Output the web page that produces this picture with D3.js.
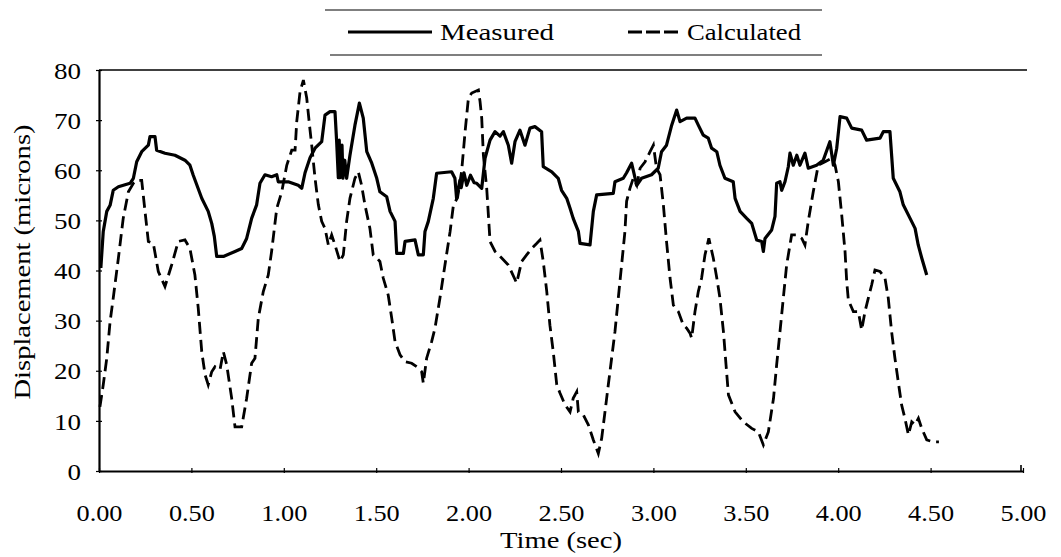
<!DOCTYPE html>
<html>
<head>
<meta charset="utf-8">
<script src="https://cdn.jsdelivr.net/npm/d3@7"></script>
<style>
  html, body { margin: 0; padding: 0; background: #fff; }
  svg { display: block; }
  text { font-family: "Liberation Serif", "Times New Roman", Times, serif !important; fill: #000; }
</style>
</head>
<body>
<svg id="chart" width="1061" height="557"></svg>
<script>
// ---- data ----
const xTicks = [0, 0.5, 1, 1.5, 2, 2.5, 3, 3.5, 4, 4.5, 5];
const xTickLabels = ["0.00", "0.50", "1.00", "1.50", "2.00", "2.50", "3.00", "3.50", "4.00", "4.50", "5.00"];
const yTicks = [0, 10, 20, 30, 40, 50, 60, 70, 80];
const yTickLabels = ["0", "10", "20", "30", "40", "50", "60", "70", "80"];
const seriesNames = ["Measured", "Calculated"];
const xTitle = "Time (sec)";
const yTitle = "Displacement (microns)";

const measuredTime = [0.01,0.023,0.042,0.06,0.077,0.105,0.168,0.186,0.204,0.231,0.267,0.276,0.303,0.312,0.357,0.411,0.465,0.492,0.51,0.556,0.591,0.61,0.624,0.637,0.673,0.736,0.772,0.799,0.826,0.853,0.871,0.898,0.934,0.962,0.97,1.024,1.078,1.097,1.115,1.142,1.169,1.205,1.223,1.25,1.277,1.286,1.295,1.3,1.305,1.315,1.32,1.33,1.34,1.358,1.385,1.409,1.43,1.449,1.476,1.503,1.52,1.557,1.575,1.602,1.611,1.647,1.656,1.71,1.728,1.755,1.764,1.782,1.809,1.827,1.908,1.926,1.935,1.953,1.96,1.975,1.99,2.01,2.03,2.044,2.071,2.089,2.116,2.143,2.17,2.188,2.215,2.233,2.251,2.278,2.305,2.332,2.359,2.395,2.404,2.45,2.485,2.503,2.531,2.549,2.566,2.594,2.603,2.657,2.675,2.693,2.783,2.792,2.837,2.855,2.882,2.91,2.936,2.99,3.026,3.044,3.071,3.099,3.126,3.144,3.18,3.225,3.243,3.27,3.297,3.315,3.343,3.36,3.387,3.432,3.442,3.469,3.505,3.532,3.559,3.586,3.595,3.604,3.64,3.658,3.667,3.685,3.694,3.712,3.73,3.739,3.757,3.776,3.793,3.82,3.838,3.883,3.919,3.955,3.974,3.992,4.01,4.046,4.073,4.127,4.154,4.226,4.244,4.28,4.298,4.334,4.352,4.389,4.416,4.433,4.452,4.479];
const measuredValue = [40.5,47.8,51.8,53,56,56.7,57.4,58.4,61.7,63.7,65,66.7,66.7,64,63.4,63,62,61,59,54.4,51.8,49.4,46.8,42.8,42.8,43.8,44.4,46.4,50.4,53.1,57.4,59.1,58.7,59.1,57.7,57.7,57,56.4,59.5,62.5,64.4,65.7,71,71.7,71.7,65.7,58.5,66,58.5,65,58.4,62,58.4,63,69,73.4,70.4,63.7,61.4,58.4,55.7,54.7,51.8,49.8,43.4,43.4,45.8,46.1,43.1,43.1,47.8,49.8,54.4,59.4,59.7,58.4,54.4,58,56.5,59.5,57,59,57.5,57.4,56.4,62.4,66,67.7,66.8,67.7,65,61.4,65.7,68,65,68.4,68.7,67.7,60.7,59.7,58.4,56,54.4,52.4,50.4,47.8,45.4,45.1,51.8,55.1,55.4,57.7,58.4,59.5,61.4,57,58.4,59.1,60.4,63.7,65,69,72,69.7,70.4,70.4,69,67,66.4,64.4,63.7,61,58.4,57.7,54.4,51.8,50.4,49.4,46.1,45.8,43.8,46.4,48.1,50.8,57.4,57.7,56,57.7,60.7,63.4,61,63,61,63.4,60.4,61,62,65.7,61,64.4,70.7,70.4,68.4,68,66,66.4,67.7,67.7,58.4,55.7,53.1,50.4,48.4,45.1,42.5,39.1];

const calculatedTime = [0.005,0.023,0.042,0.06,0.077,0.105,0.131,0.159,0.186,0.204,0.231,0.249,0.267,0.294,0.321,0.357,0.393,0.429,0.465,0.492,0.519,0.537,0.556,0.574,0.591,0.61,0.628,0.655,0.673,0.691,0.718,0.736,0.772,0.799,0.826,0.844,0.862,0.889,0.916,0.934,0.962,0.989,1.016,1.043,1.061,1.07,1.088,1.106,1.124,1.142,1.151,1.169,1.187,1.205,1.223,1.241,1.259,1.277,1.304,1.322,1.34,1.358,1.385,1.403,1.421,1.439,1.466,1.484,1.503,1.52,1.538,1.565,1.584,1.602,1.629,1.656,1.692,1.719,1.746,1.755,1.773,1.8,1.818,1.845,1.872,1.9,1.918,1.94,1.962,1.981,1.999,2.017,2.053,2.062,2.071,2.08,2.098,2.107,2.116,2.143,2.179,2.215,2.26,2.287,2.314,2.341,2.368,2.386,2.404,2.423,2.44,2.458,2.477,2.495,2.522,2.549,2.566,2.585,2.594,2.621,2.648,2.675,2.702,2.72,2.738,2.756,2.774,2.792,2.81,2.828,2.846,2.855,2.873,2.891,2.91,2.928,2.955,2.982,3.0,3.017,3.036,3.054,3.071,3.09,3.108,3.135,3.162,3.18,3.198,3.207,3.225,3.243,3.261,3.279,3.3,3.324,3.343,3.36,3.379,3.393,3.406,3.442,3.487,3.532,3.568,3.595,3.622,3.65,3.667,3.685,3.703,3.721,3.748,3.776,3.803,3.82,3.838,3.865,3.892,3.929,3.965,3.983,4.001,4.019,4.037,4.046,4.055,4.082,4.109,4.127,4.145,4.163,4.181,4.199,4.226,4.253,4.271,4.289,4.307,4.325,4.343,4.361,4.38,4.398,4.416,4.434,4.452,4.479,4.515,4.545];
const calculatedValue = [12.8,17.2,22.5,29.8,34.5,42.5,50.4,55.7,57.4,58,58,51.8,45.8,45.4,39.8,36.8,41.1,45.8,46.1,44.4,39.1,32.5,23.8,19.2,17.2,19.8,20.8,20.2,23.8,21.2,14.5,8.8,8.8,14.5,21.5,22.5,30.5,35.8,39.1,43.8,52.4,55.7,61,64,64,69.7,75.7,78,74.4,68,65,58.4,53.1,49.8,48.4,45.1,47.1,45.1,41.8,43.1,49.8,54.4,58.4,59.7,57,53.1,48.4,43.1,42.5,41.8,38.5,35.1,30.5,25.8,23.2,21.8,21.5,20.8,19.8,17.5,22.5,25.8,28.5,34.5,41.1,47.8,53.1,54.5,59.7,67.7,74.4,75.4,76,73.7,70.4,63,56.4,51.1,45.8,43.8,42.5,41.1,37.5,41.8,43.1,44.4,45.4,46.1,41.8,35.8,29.1,23.8,17.2,15.5,13.2,11.8,14.5,15.8,11.8,11.2,9.2,6.2,3.5,6.5,11.8,17.2,22.5,27.8,34.5,41.1,47.8,53.8,56.4,58.4,57,60.4,61.7,63.7,65,60.4,59.1,53.1,45.8,38.5,33.1,31.8,29.1,28.5,27.5,26.5,31.8,35.8,38.5,43.1,46.4,42.5,38.5,34.5,27.8,21.2,15.2,11.8,9.8,8.5,7.8,5.2,7.8,14.5,21.2,27.8,34.5,41.1,47.1,47.1,46.4,45.1,49.8,55.7,61,61.7,62.4,61,57.7,51.1,43.8,37.8,34.1,31.8,31.8,28.1,31.8,34.5,37.1,40.1,39.8,38.5,34.5,27.8,22.5,17.8,13.2,10.5,7.2,9.8,9.2,10.5,8.5,6.2,5.8,5.8];

// ---- chart ----
const FONT = '"Liberation Serif", "Times New Roman", Times, serif';
const svg = d3.select("#chart");
svg.append("rect").attr("width", 1061).attr("height", 557).attr("fill", "#fff");

const x = d3.scaleLinear().domain([0, 5]).range([99, 1023]);
const y = d3.scaleLinear().domain([0, 80]).range([471, 70]);

// top frame line
svg.append("line").attr("x1", x(0)).attr("x2", 1027).attr("y1", y(80)).attr("y2", y(80))
  .attr("stroke", "#000").attr("stroke-width", 1.6);

// x axis
const xAxis = svg.append("g").attr("transform", `translate(0,${y(0)})`)
  .call(d3.axisBottom(x).tickValues(xTicks).tickFormat((d, i) => xTickLabels[i]).tickSize(3).tickSizeOuter(0));
xAxis.attr("font-family", FONT);
xAxis.select(".domain").attr("stroke-width", 2.2);
xAxis.selectAll(".tick line").attr("y1", -3).attr("y2", 2).attr("stroke-width", 1.2);
xAxis.selectAll(".tick text")
  .attr("y", 50).attr("dy", null)
  .attr("font-size", 23)
  .attr("textLength", 46).attr("lengthAdjust", "spacingAndGlyphs");
// right end tick of x axis
svg.append("line").attr("x1", x(5) - 2).attr("x2", x(5) - 2).attr("y1", y(0)).attr("y2", y(0) - 6)
  .attr("stroke", "#000").attr("stroke-width", 1.6);

// y axis
const yAxis = svg.append("g").attr("transform", `translate(${x(0)},0)`)
  .call(d3.axisLeft(y).tickValues(yTicks).tickFormat((d, i) => yTickLabels[i]).tickSize(3).tickSizeOuter(0));
yAxis.attr("font-family", FONT);
yAxis.select(".domain").attr("stroke-width", 2.2);
yAxis.selectAll(".tick line").attr("x1", -3).attr("x2", 3).attr("stroke-width", 1.2);
yAxis.selectAll(".tick text")
  .attr("x", -18).attr("dy", "0.34em")
  .attr("font-size", 24)
  .each(function(d, i) {
    const s = yTickLabels[i];
    d3.select(this).attr("textLength", 13.5 * s.length).attr("lengthAdjust", "spacingAndGlyphs");
  });

// axis titles
svg.append("text").attr("x", 561).attr("y", 548).attr("text-anchor", "middle")
  .attr("font-size", 23).attr("textLength", 122).attr("lengthAdjust", "spacingAndGlyphs")
  .text(xTitle);
svg.append("text").attr("transform", "translate(30,262) rotate(-90)").attr("text-anchor", "middle")
  .attr("font-size", 23).attr("textLength", 275).attr("lengthAdjust", "spacingAndGlyphs")
  .text(yTitle);

// lines
const measured = measuredTime.map((t, i) => [t, measuredValue[i]]);
const calculated = calculatedTime.map((t, i) => [t, calculatedValue[i]]);
const line = d3.line().x(d => x(d[0])).y(d => y(d[1])).curve(d3.curveLinear);

svg.append("path").datum(measured).attr("d", line)
  .attr("fill", "none").attr("stroke", "#000").attr("stroke-width", 3.2).attr("stroke-linejoin", "round");
svg.append("path").datum(calculated).attr("d", line)
  .attr("fill", "none").attr("stroke", "#000").attr("stroke-width", 2.8)
  .attr("stroke-dasharray", "12,6");

// legend
const lg = svg.append("g");
lg.append("line").attr("x1", 325).attr("x2", 822).attr("y1", 10).attr("y2", 10).attr("stroke", "#000").attr("stroke-width", 1.2);
lg.append("line").attr("x1", 330).attr("x2", 822).attr("y1", 55).attr("y2", 55).attr("stroke", "#000").attr("stroke-width", 1.2);
lg.append("line").attr("x1", 348).attr("x2", 432).attr("y1", 32).attr("y2", 32).attr("stroke", "#000").attr("stroke-width", 2.8);
lg.append("text").attr("x", 440).attr("y", 40).attr("font-size", 23)
  .attr("textLength", 114).attr("lengthAdjust", "spacingAndGlyphs").text(seriesNames[0]);
lg.append("line").attr("x1", 628).attr("x2", 678).attr("y1", 32).attr("y2", 32).attr("stroke", "#000").attr("stroke-width", 2.8)
  .attr("stroke-dasharray", "14,4");
lg.append("text").attr("x", 687).attr("y", 40).attr("font-size", 23)
  .attr("textLength", 114).attr("lengthAdjust", "spacingAndGlyphs").text(seriesNames[1]);
</script>
</body>
</html>
